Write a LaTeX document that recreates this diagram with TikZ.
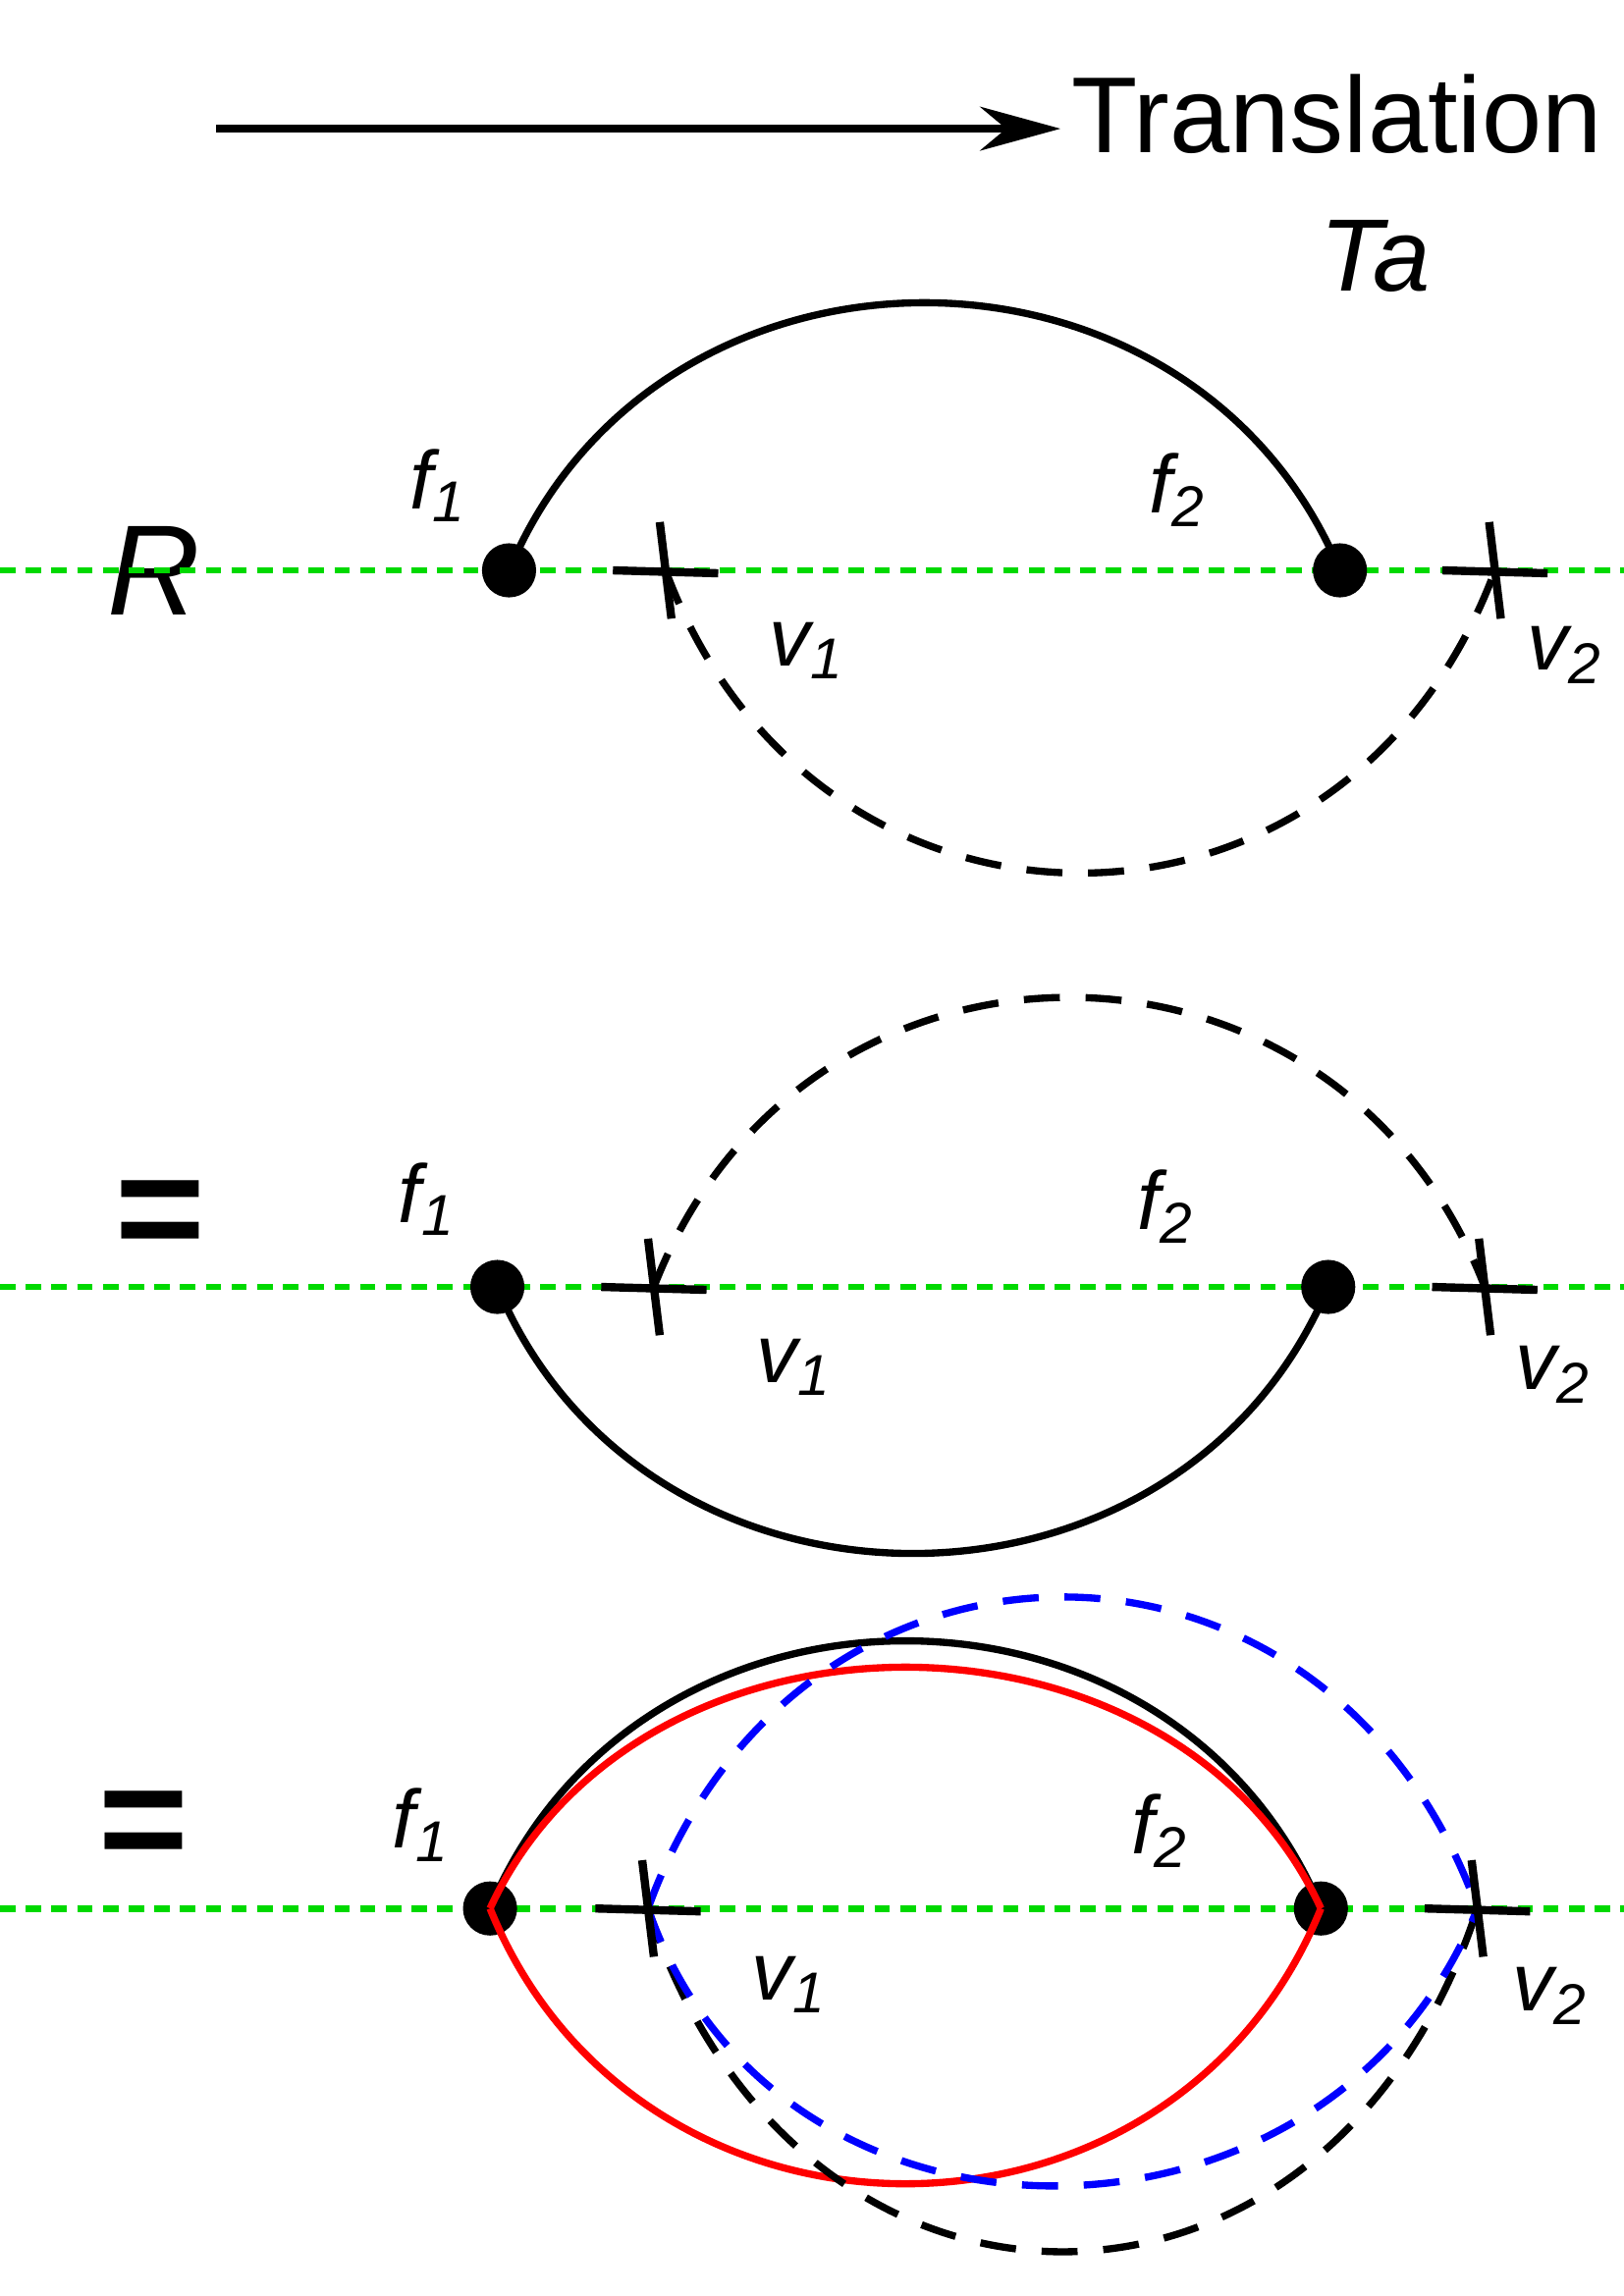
\documentclass[tikz,border=0pt]{standalone}
\usepackage{fontspec}
\setmainfont{Liberation Sans}
\usetikzlibrary{arrows.meta,positioning}

\begin{document}
\begin{tikzpicture}[x=0.01cm, y=-0.01cm,
    vertex/.style={circle, fill=black, inner sep=0pt, minimum size=0.37cm},
    lbl/.style={font=\itshape\fontsize{16}{19}\selectfont},
    axis/.style={green!85!black, dashed, line width=1.3pt, dash pattern=on 3pt off 2pt},
    prop/.style={line width=1.4pt},
    ghost/.style={line width=1.4pt, dash pattern=on 7pt off 5pt},
    crossmark/.style={line width=1.6pt}]
  \useasboundingbox (0,0) rectangle (1110,1570);

  % translation arrow
  \coordinate (t0) at (148,88);
  \node[anchor=west, font=\fontsize{21}{25}\selectfont, inner sep=0pt] (trans) at (732,78) {Translation};
  \node[lbl, font=\itshape\fontsize{20}{24}\selectfont] (Ta) at (940,175) {Ta};
  \draw[line width=1.4pt, -{Stealth[length=0.55cm,width=0.3cm]}] (t0) -- (725,88);

  % ---- row 1
  \node[lbl, font=\itshape\fontsize{25}{30}\selectfont] (R) at (105,390) {R};
  \coordinate (l1a) at (0,390); \coordinate (l1b) at (1110,390);
  \draw[axis] (l1a) -- (l1b);
  \node[vertex] (f1a) at (348,390) {};
  \node[vertex] (f2a) at (916,390) {};
  \coordinate (v1a) at (455,390); \coordinate (v2a) at (1022,390);
  \draw[prop] (f1a.center) .. controls (450,146) and (814,146) .. (f2a.center);
  \draw[ghost] (v1a) .. controls (557,666) and (920,666) .. (v2a);
  \foreach \c in {v1a,v2a}
    \draw[crossmark] (\c) +(-36,0) -- +(36,2) (\c) +(-4,-33) -- +(4,33);
  \node[lbl] (f1la) at (300,332) {f\textsubscript{1}};
  \node[lbl] (f2la) at (805,335) {f\textsubscript{2}};
  \node[lbl] (v1la) at (552,445) {v\textsubscript{1}};
  \node[lbl] (v2la) at (1070,448) {v\textsubscript{2}};

  % ---- row 2
  \node[font=\bfseries\fontsize{30}{34}\selectfont] (eq1) at (110,835) {=};
  \coordinate (l2a) at (0,880); \coordinate (l2b) at (1110,880);
  \draw[axis] (l2a) -- (l2b);
  \node[vertex] (f1b) at (340,880) {};
  \node[vertex] (f2b) at (908,880) {};
  \coordinate (v1b) at (447,880); \coordinate (v2b) at (1015,880);
  \draw[prop] (f1b.center) .. controls (442,1123) and (806,1123) .. (f2b.center);
  \draw[ghost] (v1b) .. controls (549,616) and (913,616) .. (v2b);
  \foreach \c in {v1b,v2b}
    \draw[crossmark] (\c) +(-36,0) -- +(36,2) (\c) +(-4,-33) -- +(4,33);
  \node[lbl] (f1lb) at (292,820) {f\textsubscript{1}};
  \node[lbl] (f2lb) at (797,825) {f\textsubscript{2}};
  \node[lbl] (v1lb) at (543,935) {v\textsubscript{1}};
  \node[lbl] (v2lb) at (1062,940) {v\textsubscript{2}};

  % ---- row 3
  \node[font=\bfseries\fontsize{30}{34}\selectfont] (eq2) at (98,1252) {=};
  \coordinate (l3a) at (0,1305); \coordinate (l3b) at (1110,1305);
  \draw[axis] (l3a) -- (l3b);
  \node[vertex] (f1c) at (335,1305) {};
  \node[vertex] (f2c) at (903,1305) {};
  \coordinate (v1c) at (443,1305); \coordinate (v2c) at (1010,1305);
  \draw[prop] (f1c.center) .. controls (437,1061) and (801,1061) .. (f2c.center);
  \draw[prop, red] (f1c.center) .. controls (437,1085) and (801,1085) .. (f2c.center);
  \draw[prop, red] (f1c.center) .. controls (437,1556) and (801,1556) .. (f2c.center);
  \draw[ghost] (v1c) .. controls (545,1618) and (908,1618) .. (v2c);
  \draw[ghost, blue] (v1c) .. controls (545,1021) and (908,1021) .. (v2c);
  \draw[ghost, blue] (v1c) .. controls (530,1558) and (908,1558) .. (v2c);
  \foreach \c in {v1c,v2c}
    \draw[crossmark] (\c) +(-36,0) -- +(36,2) (\c) +(-4,-33) -- +(4,33);
  \node[lbl] (f1lc) at (288,1248) {f\textsubscript{1}};
  \node[lbl] (f2lc) at (793,1252) {f\textsubscript{2}};
  \node[lbl] (v1lc) at (540,1357) {v\textsubscript{1}};
  \node[lbl] (v2lc) at (1060,1365) {v\textsubscript{2}};
\end{tikzpicture}
\end{document}
